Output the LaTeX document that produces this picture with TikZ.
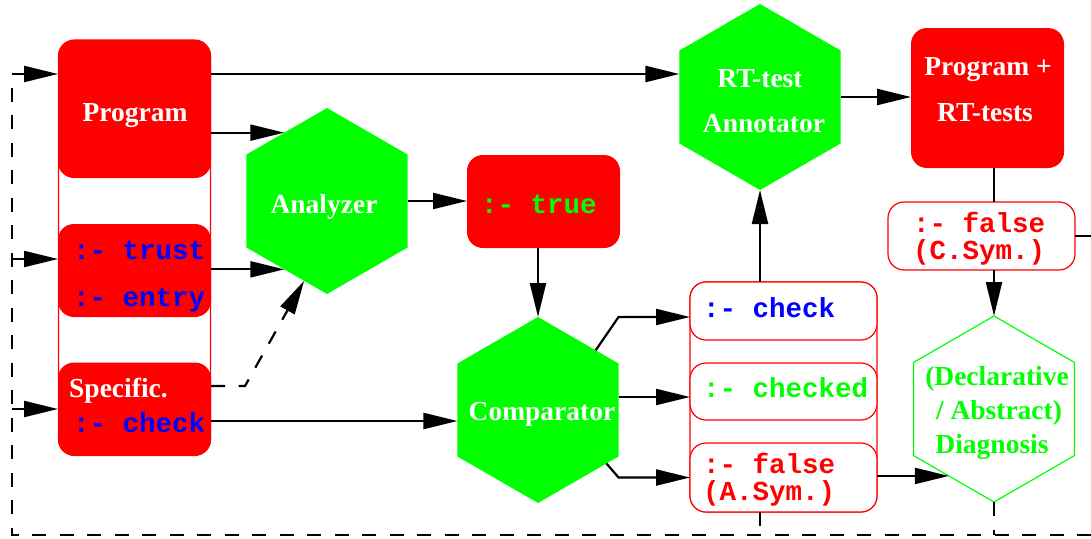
\documentclass[tikz,border=0pt]{standalone}
\usepackage{fontspec}
\setmainfont{Liberation Serif}
\setmonofont{Liberation Mono}
\usetikzlibrary{shapes.geometric,arrows.meta,calc}
\definecolor{pred}{RGB}{255,0,0}
\definecolor{pgreen}{RGB}{0,255,0}
\definecolor{pblue}{RGB}{0,0,255}
\begin{document}
\begin{tikzpicture}[x=1pt,y=-1pt,
  redbox/.style={rectangle,rounded corners=16pt,fill=pred,inner sep=0pt,outer sep=0pt,minimum width=153pt},
  wbox/.style={rectangle,rounded corners=16pt,draw=pred,fill=white,line width=1.2pt,inner sep=0pt,outer sep=0pt,minimum width=187pt},
  hexa/.style={regular polygon,regular polygon sides=6,shape border rotate=90,minimum size=186pt,inner sep=0pt,outer sep=0pt},
  serf/.style={inner sep=0pt,font=\fontsize{27.5}{30}\selectfont\rmfamily\bfseries},
  mono/.style={inner sep=0pt,font=\fontsize{27.5}{30}\selectfont\ttfamily\bfseries},
  ln/.style={line width=2.2pt},
  arr/.style={line width=2.2pt,-{Triangle[length=34pt,width=16pt]}},
  dsh/.style={line width=2pt,dash pattern=on 14pt off 13.5pt}]
\useasboundingbox (0,0) rectangle (1091,538);
% frames
\draw[pred,line width=1.1pt,rounded corners=16pt] (58.5,40) rectangle (210.5,455.5);
\draw[pred,line width=1.1pt,rounded corners=16pt] (690,282) rectangle (877,512);
% left column
\node[redbox,minimum height=138pt] (prog) at (134.5,109) {};
\node[redbox,minimum height=93pt] (trust) at (134.5,270.5) {};
\node[redbox,minimum height=93pt] (spec) at (134.5,409) {};
% hexagons
\node[hexa,fill=pgreen] (ana) at (327,201) {};
\node[hexa,fill=pgreen] (cmp) at (538,410) {};
\node[hexa,fill=pgreen] (rt) at (760,97) {};
\node[hexa,draw=pgreen,line width=1.2pt,fill=white] (diag) at (994,409) {};
% other boxes
\node[redbox,minimum height=93pt] (true) at (543.5,201.5) {};
\node[redbox,minimum height=140pt] (prt) at (987.5,98) {};
\node[wbox,minimum height=58pt] (chk) at (783.5,311) {};
\node[wbox,minimum height=57pt] (chkd) at (783.5,391.5) {};
\node[wbox,minimum height=69pt] (asym) at (783.5,477.5) {};
\node[wbox,minimum height=68pt] (csym) at (981.5,236) {};
% texts
\node[serf,text=white,anchor=base] (tprog) at (135,121) {Program};
\node[mono,text=pblue,anchor=base west] (ttrust) at (73,259) {:- trust};
\node[mono,text=pblue,anchor=base west] (tentry) at (73,306) {:- entry};
\node[serf,text=white,anchor=base west] (tspec) at (69,397) {Specific.};
\node[mono,text=pblue,anchor=base west] (tscheck) at (73,432) {:- check};
\node[serf,text=white,anchor=base] (tana) at (324,213) {Analyzer};
\node[serf,text=white,anchor=base] (tcmp) at (542,420) {Comparator};
\node[serf,text=white,anchor=base] (trt1) at (760,87) {RT-test};
\node[serf,text=white,anchor=base] (trt2) at (764,132) {Annotator};
\node[mono,text=pgreen,anchor=base west] (ttrue) at (481,213) {:- true};
\node[serf,text=white,anchor=base] (tprt1) at (988,75) {Program +};
\node[serf,text=white,anchor=base] (tprt2) at (985,121) {RT-tests};
\node[mono,text=pblue,anchor=base west] (tchk) at (703,317) {:- check};
\node[mono,text=pgreen,anchor=base west] (tchkd) at (703,397) {:- checked};
\node[mono,text=pred,anchor=base west] (tfa1) at (703,473) {:- false};
\node[mono,text=pred,anchor=base west] (tfa2) at (703,500) {(A.Sym.)};
\node[mono,text=pred,anchor=base west] (tfc1) at (913,232) {:- false};
\node[mono,text=pred,anchor=base west] (tfc2) at (913,259) {(C.Sym.)};
\node[serf,text=pgreen,anchor=base] (td1) at (997,385) {(Declarative};
\node[serf,text=pgreen,anchor=base] (td2) at (999,419) {/ Abstract)};
\node[serf,text=pgreen,anchor=base] (td3) at (992,453) {Diagnosis};
% feedback loop
\coordinate (bl) at (12,535);
\coordinate (br) at (1091,535);
\coordinate (tl) at (12,74);
\draw[dsh] (br) -- (bl) -- (tl);
\draw[dsh,arr] (tl) -- (tl -| prog.west);
\draw[dsh,arr] ([yshift=11.5pt]trust.west -| bl) -- ([yshift=11.5pt]trust.west);
\draw[dsh,arr] (spec.west -| bl) -- (spec.west);
\draw[dsh] (rt.south |- asym.south) -- (rt.south |- bl);
\draw[dsh] (diag.south) -- (diag.south |- bl);
% connectors
\draw[arr] (tl -| prog.east) -- (tl -| rt.west);
\draw[arr] (prog.east |- ana.122) -- (ana.122);
\draw[arr] (trust.east |- ana.238) -- (ana.238);
\draw[dsh,arr] ([yshift=23pt]spec.east) -- ++(34,0) -- (ana.254);
\draw[arr] ([yshift=-12pt]spec.east) -- ([yshift=-12pt]spec.east -| cmp.west);
\draw[arr] (ana.east) -- (ana.east -| true.west);
\draw[arr] (cmp.north |- true.south) -- (cmp.north);
\coordinate (c1) at ([yshift=-6pt]chk.west);
\coordinate (c2) at ([yshift=-5.5pt]chkd.west);
\draw[arr] (cmp.46) -- (cmp.east |- c1) -- (c1);
\draw[arr] (cmp.east |- c2) -- (c2);
\draw[arr] (cmp.322) -- (cmp.east |- asym.west) -- (asym.west);
\draw[arr] (rt.south |- chk.north) -- (rt.south);
\draw[arr] (rt.east) -- (rt.east -| prt.west);
\draw[ln] (diag.north |- prt.south) -- (diag.north |- csym.north);
\draw[arr] (diag.north |- csym.south) -- (diag.north);
\draw[arr] (asym.east |- diag.236) -- (diag.236);
\draw[ln] (csym.east) -- (csym.east -| br);
\end{tikzpicture}
\end{document}
